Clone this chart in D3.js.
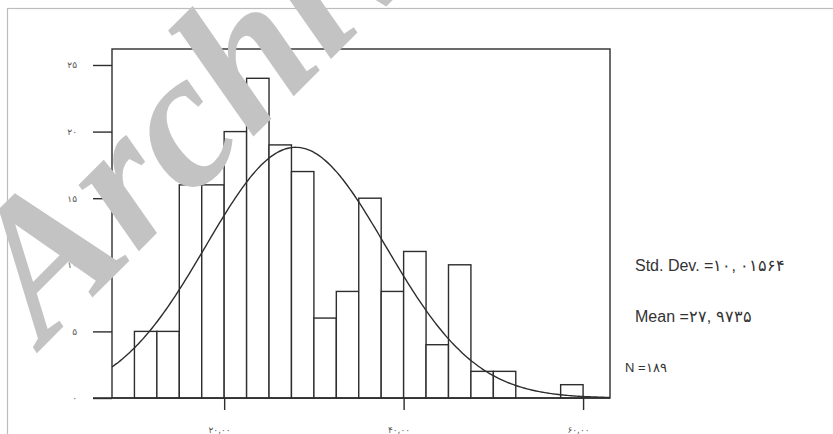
<!DOCTYPE html>
<html>
<head>
<meta charset="utf-8">
<script src="https://cdn.jsdelivr.net/npm/d3@7"></script>
<style>
  html, body { margin: 0; padding: 0; background: #fff; }
  svg { display: block; }
</style>
</head>
<body>
<svg id="chart" width="833" height="434"></svg>
<script>
// ---- data ----
const binStart = [10, 12.5, 15, 17.5, 20, 22.5, 25, 27.5, 30, 32.5, 35, 37.5, 40, 42.5, 45, 47.5, 50, 52.5, 55, 57.5];
const counts   = [5, 5, 16, 16, 20, 24, 19, 17, 6, 8, 15, 8, 11, 4, 10, 2, 2, 0, 0, 1];
const binWidth = 2.5;
const yTicks = [0, 5, 10, 15, 20, 25];
const yTickLabels = ["۰", "۵", "۱۰", "۱۵", "۲۰", "۲۵"];
const xTicks = [20, 40, 60];
const xTickLabels = ["۲۰,۰۰", "۴۰,۰۰", "۶۰,۰۰"];
const meanValue = 27.9735;
const sdValue = 10.01564;
const nValue = 189;
const statLines = ["Std. Dev. =۱۰, ۰۱۵۶۴", "Mean =۲۷, ۹۷۳۵", "N =۱۸۹"];
const watermark = "Archive of SID";

// ---- layout ----
const svg = d3.select("#chart");
const plot = { left: 112, right: 610, top: 49, bottom: 398 };
const ink = "#2e2e2e";

const x = d3.scaleLinear().domain([7.5, 63]).range([plot.left, plot.right]);
const y = d3.scaleLinear().domain([0, 26.2]).range([plot.bottom, plot.top]);

// outer light frame
svg.append("rect")
  .attr("x", 7.5).attr("y", 8.5).attr("width", 840).attr("height", 440)
  .attr("fill", "none").attr("stroke", "#bdbdbd").attr("stroke-width", 1.2);

// plot frame
svg.append("rect")
  .attr("x", plot.left).attr("y", plot.top)
  .attr("width", plot.right - plot.left).attr("height", plot.bottom - plot.top)
  .attr("fill", "none").attr("stroke", ink).attr("stroke-width", 1.4);

// bars
const bars = binStart.map((s, i) => ({ s, c: counts[i] })).filter(d => d.c > 0);
svg.append("g").selectAll("rect").data(bars).join("rect")
  .attr("x", d => x(d.s))
  .attr("y", d => y(d.c))
  .attr("width", d => x(d.s + binWidth) - x(d.s))
  .attr("height", d => y(0) - y(d.c))
  .attr("fill", "#fff")
  .attr("stroke", ink)
  .attr("stroke-width", 1.4);

// normal curve
const pdf = v => Math.exp(-0.5 * Math.pow((v - meanValue) / sdValue, 2)) / (sdValue * Math.sqrt(2 * Math.PI));
const curvePts = d3.range(7.5, 63.01, 0.25).map(v => [v, nValue * binWidth * pdf(v)]);
svg.append("path")
  .datum(curvePts)
  .attr("fill", "none")
  .attr("stroke", ink)
  .attr("stroke-width", 1.4)
  .attr("d", d3.line().x(d => x(d[0])).y(d => y(d[1])).curve(d3.curveBasis));

// bottom base line extending to the tick start
svg.append("line")
  .attr("x1", plot.left - 19).attr("x2", plot.right)
  .attr("y1", y(0)).attr("y2", y(0))
  .attr("stroke", ink).attr("stroke-width", 1.4);

// y axis ticks
const yAxis = d3.axisLeft(y).tickValues(yTicks).tickSize(19).tickPadding(16)
  .tickFormat((d, i) => yTickLabels[i]);
const gy = svg.append("g").attr("transform", `translate(${plot.left},0)`).call(yAxis);
gy.select(".domain").remove();
gy.selectAll(".tick line").attr("stroke", ink).attr("stroke-width", 1.4);
gy.selectAll(".tick text")
  .attr("fill", "#555").attr("font-size", 9)
  .attr("font-family", "DejaVu Sans, sans-serif")
  .attr("letter-spacing", 3);

// x axis ticks
const xAxis = d3.axisBottom(x).tickValues(xTicks).tickSize(12).tickPadding(17)
  .tickFormat((d, i) => xTickLabels[i]);
const gx = svg.append("g").attr("transform", `translate(0,${plot.bottom})`).call(xAxis);
gx.select(".domain").remove();
gx.selectAll(".tick line").attr("stroke", ink).attr("stroke-width", 1.4);
gx.selectAll(".tick text")
  .attr("fill", "#555").attr("font-size", 9)
  .attr("font-family", "DejaVu Sans, sans-serif")
  .attr("letter-spacing", 3)
  .attr("text-anchor", "end")
  .attr("dx", 6);

// statistics text
const statPos = [[635, 271, 16], [635, 322, 16], [625, 372, 13]];
svg.append("g").selectAll("text").data(statLines).join("text")
  .attr("x", (d, i) => statPos[i][0])
  .attr("y", (d, i) => statPos[i][1])
  .attr("font-size", (d, i) => statPos[i][2])
  .attr("font-family", "Liberation Sans, Arial, sans-serif")
  .attr("fill", "#333")
  .text(d => d);

// watermark
svg.append("text")
  .attr("transform", "translate(44,346) rotate(-45)")
  .style("font-family", "'Liberation Serif'")
  .style("font-weight", "bold")
  .style("font-style", "italic")
  .attr("font-size", 195)
  .attr("fill", "#c3c3c3")
  .text(watermark);
</script>
</body>
</html>
